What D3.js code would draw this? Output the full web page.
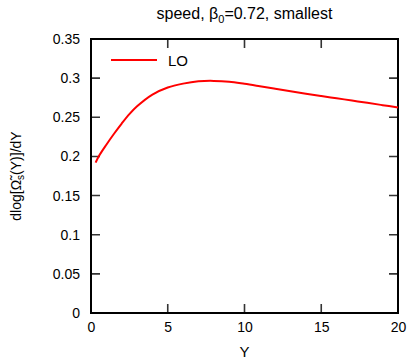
<!DOCTYPE html>
<html>
<head>
<meta charset="utf-8">
<script src="https://cdn.jsdelivr.net/npm/d3@7"></script>
<style>
  body { margin: 0; background: #fff; }
  text { font-family: "Liberation Sans", Arial, sans-serif; fill: #000; }
</style>
</head>
<body>
<svg id="chart" width="410" height="360"></svg>
<script>
// curve
const rapidity = [0.3, 0.5, 1, 1.5, 2, 2.5, 3, 4, 5, 6, 7, 8, 9, 10, 11, 12, 13, 14, 15, 16, 17, 18, 19, 20]
const dlogOmega = [0.192, 0.200, 0.215, 0.229, 0.242, 0.254, 0.264, 0.279, 0.288, 0.293, 0.296, 0.2965,
                   0.2955, 0.2928, 0.2897, 0.2865, 0.2833, 0.2802, 0.2772, 0.2743, 0.2714, 0.2685, 0.2655, 0.2625]
const xTicks = [0, 5, 10, 15, 20]
const yTicks = [0, 0.05, 0.1, 0.15, 0.2, 0.25, 0.3, 0.35]
const seriesName = "LO"

const svg = d3.select("#chart")
const margin = {left: 91, right: 12, top: 39, bottom: 47}
const width = 410 - margin.left - margin.right
const height = 360 - margin.top - margin.bottom
const tickLen = 9

const x = d3.scaleLinear().domain([0, 20]).range([0, width])
const y = d3.scaleLinear().domain([0, 0.35]).range([height, 0])

let g = svg.append("g").attr("transform", `translate(${margin.left},${margin.top})`)

// tick labels come from the axes, the tick marks are drawn by hand below
function styleAxis(sel) {
  sel.select(".domain").remove()
  sel.selectAll(".tick line").remove()
  sel.selectAll(".tick text").attr("font-size", "14px")
    .attr("font-family", "Liberation Sans, Arial, sans-serif")
}

g.append("g")
  .attr("transform", `translate(0,${height})`)
  .call(d3.axisBottom(x).tickValues(xTicks).tickSize(0).tickPadding(9).tickFormat(d3.format("d")))
  .call(styleAxis)

g.append("g")
  .call(d3.axisLeft(y).tickValues(yTicks).tickSize(0).tickPadding(11).tickFormat(d => d === 0 ? "0" : String(d)))
  .call(styleAxis)

// gnuplot style: ticks point inwards, mirrored on the opposite side
let tickPath = ""
xTicks.forEach(d => {
  tickPath += `M${x(d)},${height}v${-tickLen}M${x(d)},0v${tickLen}`
})
yTicks.forEach(d => {
  tickPath += `M0,${y(d)}h${tickLen}M${width},${y(d)}h${-tickLen}`
})
g.append("path")
  .attr("d", tickPath)
  .attr("fill", "none")
  .attr("stroke", "#333")
  .attr("stroke-width", 1.6)

// frame
g.append("rect")
  .attr("width", width).attr("height", height)
  .attr("fill", "none").attr("stroke", "#000").attr("stroke-width", 2)

// the curve
const line = d3.line()
  .x((d, i) => x(rapidity[i]))
  .y(d => y(d))
  .curve(d3.curveCatmullRom.alpha(0.5))

g.append("path")
  .datum(dlogOmega)
  .attr("d", line)
  .attr("fill", "none")
  .attr("stroke", "#ff0000")
  .attr("stroke-width", 2)

// legend
let legend_g = g.append("g").attr("transform", "translate(20,21)")
legend_g.append("line").attr("x1", 0).attr("x2", 46)
  .attr("stroke", "#ff0000").attr("stroke-width", 2)
legend_g.append("text").attr("x", 57).attr("y", 5.5)
  .attr("font-size", "15px").text(seriesName)

// title
let title = svg.append("text")
  .attr("x", margin.left + width / 2).attr("y", 19)
  .attr("text-anchor", "middle").attr("font-size", "16px")
title.append("tspan").text("speed, β")
title.append("tspan").attr("font-size", "11px").attr("dy", 4).text("0")
title.append("tspan").attr("dy", -4).text("=0.72, smallest")

// axis labels
svg.append("text")
  .attr("x", margin.left + width / 2).attr("y", 357)
  .attr("text-anchor", "middle").attr("font-size", "15px").text("Y")

let ylab = svg.append("text")
  .attr("transform", `translate(21,${margin.top + height / 2}) rotate(-90)`)
  .attr("text-anchor", "middle").attr("font-size", "14px")
ylab.append("tspan").text("dlog[Ω̃")
ylab.append("tspan").attr("font-size", "10px").attr("dy", 3).text("s")
ylab.append("tspan").attr("dy", -3).text("(Y)]/dY")
</script>
</body>
</html>
